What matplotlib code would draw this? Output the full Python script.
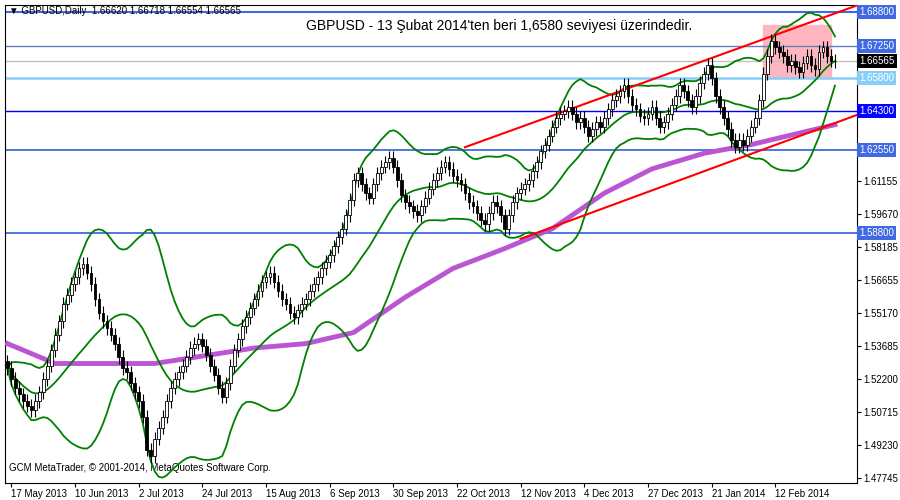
import matplotlib
matplotlib.use("Agg")
import matplotlib.pyplot as plt
import matplotlib.transforms as mtransforms
import numpy as np
import pandas as pd

plt.rcParams['font.family'] = ['Liberation Sans', 'DejaVu Sans']

closes = [1.527,1.522,1.518,1.515,1.512, 1.510,1.508,1.512,1.516,1.522,
 1.528,1.535,1.542,1.548,1.556, 1.560,1.565,1.568,1.572,1.574,
 1.570,1.565,1.558,1.552,1.548, 1.545,1.542,1.538,1.532,1.527,
 1.525,1.520,1.516,1.512,1.505, 1.490,1.487,1.495,1.500,1.505,
 1.512,1.518,1.522,1.525,1.528, 1.532,1.536,1.538,1.540,1.537,
 1.533,1.528,1.524,1.518,1.514, 1.520,1.528,1.535,1.540,1.546,
 1.550,1.554,1.558,1.562,1.566, 1.568,1.570,1.566,1.562,1.558,
 1.556,1.552,1.550,1.553,1.556, 1.558,1.562,1.565,1.568,1.572,
 1.575,1.578,1.582,1.586,1.590, 1.596,1.603,1.612,1.615,1.610,
 1.606,1.604,1.610,1.615,1.618, 1.620,1.622,1.618,1.612,1.605,
 1.602,1.600,1.598,1.596,1.600, 1.604,1.608,1.612,1.615,1.618,
 1.620,1.617,1.614,1.612,1.610, 1.606,1.602,1.600,1.597,1.594,
 1.592,1.597,1.602,1.600,1.596, 1.590,1.596,1.602,1.606,1.608,
 1.610,1.612,1.616,1.620,1.625, 1.628,1.632,1.636,1.640,1.642,
 1.643,1.645,1.642,1.638,1.640, 1.636,1.632,1.635,1.638,1.636,
 1.640,1.644,1.648,1.650,1.652, 1.655,1.650,1.646,1.644,1.641,
 1.640,1.642,1.645,1.640,1.636, 1.638,1.642,1.646,1.650,1.655,
 1.652,1.648,1.645,1.650,1.656, 1.660,1.664,1.658,1.650,1.645,
 1.640,1.635,1.630,1.627,1.630, 1.628,1.632,1.636,1.640,1.648,
 1.660,1.668,1.675,1.672,1.670, 1.668,1.664,1.666,1.663,1.661,
 1.665,1.668,1.664,1.662,1.670, 1.672,1.668,1.666,1.6656]
first_open = 1.530
wick = 0.003

ma_bars = [0, 12, 37, 62, 75, 87, 100, 112, 125, 137, 150, 162, 175, 187, 208]
ma_vals = [1.538, 1.529, 1.529, 1.536, 1.538, 1.543, 1.559, 1.572, 1.581, 1.590, 1.606, 1.617, 1.624, 1.628, 1.637]

levels = [1.6880, 1.6725, 1.6580, 1.6430, 1.6255, 1.5880]
level_colors = ["#4169e1", "#6a7fb8", "#87cefa", "#0000ff", "#4169e1", "#4169e1"]
level_widths = [1.5, 1.0, 1.8, 1.0, 1.3, 1.3]
current = 1.66565
tick_vals = [1.61155, 1.59670, 1.58185, 1.56655, 1.55170, 1.53685, 1.52200, 1.50715, 1.49230, 1.47745]
date_labels = ["17 May 2013","10 Jun 2013","2 Jul 2013","24 Jul 2013","15 Aug 2013","6 Sep 2013",
               "30 Sep 2013","22 Oct 2013","12 Nov 2013","4 Dec 2013","27 Dec 2013","21 Jan 2014","12 Feb 2014"]
date_bars = [1, 17, 33, 49, 65, 81, 97, 113, 129, 145, 161, 177, 193]
trend_upper = [(115, 1.6268), (214, 1.6912)]
trend_lower = [(129, 1.5854), (214, 1.6417)]
box = (190, 207, 1.6583, 1.6822)

fig = plt.figure(figsize=(9, 5), dpi=100)
ax = fig.add_axes([0.005, 0.035, 0.947, 0.955])
n = len(closes)
c = np.array(closes)
o = np.concatenate([[first_open], c[:-1]])
h = np.maximum(o, c) + wick
l = np.minimum(o, c) - wick
s = pd.Series(c)
mid = s.rolling(20, min_periods=1).mean()
sd = s.rolling(20, min_periods=1).std(ddof=0).fillna(0)
x = np.arange(n)

ax.add_patch(plt.Rectangle((box[0], box[2]), box[1]-box[0], box[3]-box[2], color="#ffb6c1", zorder=1))
for lv, col, lw in zip(levels, level_colors, level_widths):
    ax.axhline(lv, color=col, lw=lw, zorder=2)
ax.axhline(current, color="#c0c0c0", lw=1, zorder=2)

ax.plot(ma_bars, ma_vals, color="#ba55d3", lw=3.5, zorder=3)
ax.plot(x, mid, color="green", lw=1.3, zorder=4)
ax.plot(x, mid + 2*sd, color="green", lw=1.3, zorder=4)
ax.plot(x, mid - 2*sd, color="green", lw=1.3, zorder=4)
for t in (trend_upper, trend_lower):
    ax.plot([t[0][0], t[1][0]], [t[0][1], t[1][1]], color="red", lw=1.5, zorder=5)

for i in range(n):
    ax.vlines(x[i], l[i], h[i], color="black", lw=0.8, zorder=6)
    bull = c[i] >= o[i]
    ax.add_patch(plt.Rectangle((x[i]-0.35, min(o[i], c[i])), 0.7, max(abs(c[i]-o[i]), 0.0003),
                               facecolor="white" if bull else "black", edgecolor="black", lw=0.6, zorder=7))

ax.set_xlim(-0.75, 213.5)
ax.set_ylim(1.4752, 1.6911)
ax.yaxis.tick_right()
ax.set_yticks(tick_vals)
ax.set_yticklabels([f"{v:.5f}" for v in tick_vals], fontsize=7)
ax.set_xticks(date_bars)
ax.set_xticklabels(date_labels, fontsize=7, ha="left")
ax.tick_params(length=3, pad=2)

tr = mtransforms.blended_transform_factory(ax.transAxes, ax.transData)
box_cols = ["#4169e1", "#4169e1", "#87cefa", "#0000ff", "#4169e1", "#4169e1"]
for lv, col in zip(levels, box_cols):
    ax.text(1.003, lv, f"{lv:.5f}", transform=tr, fontsize=7, color="white", va="center", ha="left",
            bbox=dict(facecolor=col, edgecolor="none", pad=1.5))
ax.text(1.003, current, f"{current:.5f}", transform=tr, fontsize=7, color="white", va="center", ha="left",
        bbox=dict(facecolor="black", edgecolor="none", pad=1.5))

ax.text(0.005, 0.997, "▼ GBPUSD,Daily  1.66620 1.66718 1.66554 1.66565", transform=ax.transAxes,
        fontsize=7, va="top", ha="left", family=['Liberation Sans', 'DejaVu Sans'])
ax.text(0.58, 0.955, "GBPUSD - 13 Şubat 2014'ten beri 1,6580 seviyesi üzerindedir.", transform=ax.transAxes,
        fontsize=10, va="center", ha="center")
ax.text(0.005, 0.02, "GCM MetaTrader, © 2001-2014, MetaQuotes Software Corp.", transform=ax.transAxes,
        fontsize=7, va="bottom", ha="left")
fig.savefig("out.png")
